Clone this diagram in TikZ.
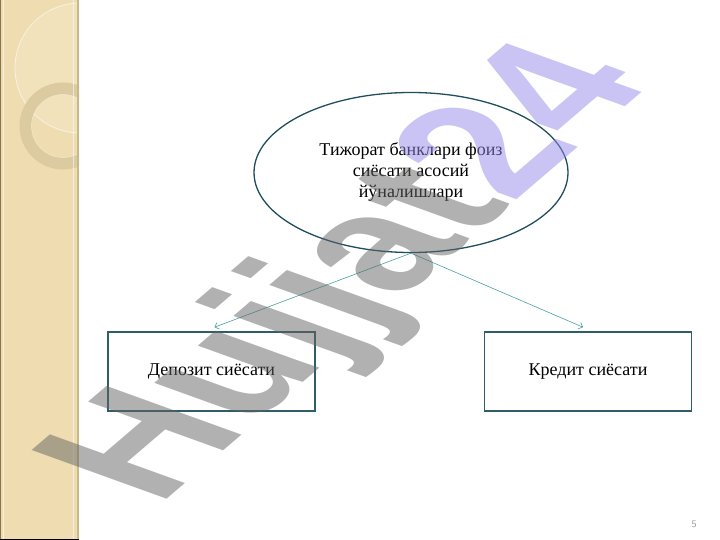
\documentclass[tikz,border=0pt]{standalone}
\usepackage{fontspec}
\setmainfont{Liberation Serif}
\newfontfamily\wmfont{Liberation Sans}
\usetikzlibrary{shapes.geometric,arrows.meta}
\definecolor{stripbg}{RGB}{239,221,177}
\definecolor{striplight}{RGB}{247,236,208}
\definecolor{stripedge}{RGB}{200,184,142}
\definecolor{stripdark}{RGB}{140,116,72}
\definecolor{ringcol}{RGB}{220,203,160}
\definecolor{ellborder}{RGB}{31,78,95}
\definecolor{boxborder}{RGB}{47,94,104}
\definecolor{linkcol}{RGB}{72,160,162}
\definecolor{wmgray}{RGB}{100,100,100}
\definecolor{wmpurple}{RGB}{150,138,236}
\definecolor{pagenum}{RGB}{150,150,150}
\tikzset{
  mainell/.style={ellipse, draw=ellborder, line width=1.3pt, minimum width=314pt, minimum height=160pt, inner sep=0pt, align=center, font=\fontsize{18}{21}\selectfont},
  sidebox/.style={rectangle, draw=boxborder, line width=1.6pt, minimum width=207pt, minimum height=79pt, inner sep=0pt, font=\fontsize{18}{21}\selectfont},
  link/.style={draw=linkcol, line width=0.6pt, -{Straight Barb[length=3.5pt,width=7pt]}}
}
\begin{document}
\begin{tikzpicture}[x=1pt,y=-1pt]
\useasboundingbox (0,0) rectangle (720,540);
\fill[white] (0,0) rectangle (720,540);
% left decorative strip
\begin{scope}
\clip (0,0) rectangle (79,540);
\fill[stripbg] (0,0) rectangle (79,540);
\fill[striplight, opacity=0.35] (80,68) circle (65);
\draw[white, opacity=0.6, line width=0.8pt] (80,68) circle (65);
\draw[ringcol, line width=12pt] (63,126) circle (37.5);
\draw[white, opacity=0.35, line width=0.8pt] (63,126) circle (31.5);
\end{scope}
\draw[stripdark, line width=1.2pt] (0.6,0) -- (0.6,540);
\draw[white, opacity=0.6, line width=1pt] (3,0) -- (3,540);
\draw[white, opacity=0.5, line width=1pt] (73,0) -- (73,540);
\draw[stripedge, line width=1.6pt] (78.2,0) -- (78.2,540);
\draw[black, line width=1.2pt] (0,539.4) -- (79,539.4);
% diagram
\node[mainell] (main) at (411,172.5) {Тижорат банклари фоиз\\сиёсати асосий\\йўналишлари};
\node[sidebox] (dep) at (211.5,371.5) {Депозит сиёсати};
\node[sidebox] (cred) at (588,371.5) {Кредит сиёсати};
\draw[link] (main.south) -- ([xshift=3pt,yshift=4pt]dep.north);
\draw[link] (main.south) -- ([xshift=-5pt,yshift=4pt]cred.north);
\node[text=pagenum, font=\sffamily\fontsize{10}{12}\selectfont] (pg) at (694,524) {5};
% watermark
\begin{scope}[shift={(356,276)}, xscale=1.8]
\node[rotate=57, transform shape, text opacity=0.5, inner sep=0pt, font=\wmfont\bfseries\fontsize{130}{130}\selectfont] (wm) at (0,0) {{\color{wmgray}Hujjat}{\color{wmpurple}24}};
\end{scope}
\end{tikzpicture}
\end{document}
